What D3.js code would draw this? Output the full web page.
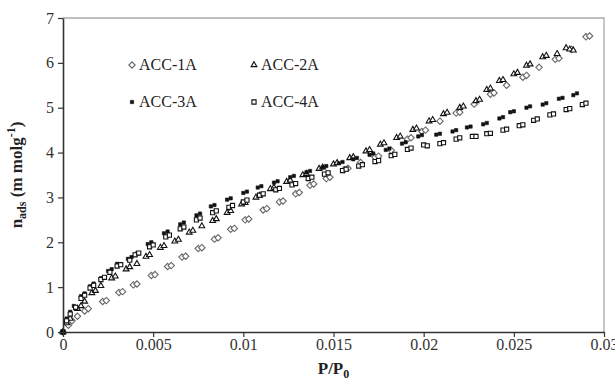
<!DOCTYPE html>
<html><head><meta charset="utf-8">
<script src="https://cdn.jsdelivr.net/npm/d3@7"></script>
<style>body{margin:0;background:#fff}svg{display:block}</style>
</head><body><svg id="c" width="615" height="382" font-family="Liberation Serif"></svg>
<script>
const seriesNames = ["ACC-1A","ACC-2A","ACC-3A","ACC-4A"];
const xTicks = [0,0.005,0.01,0.015,0.02,0.025,0.03];
const xTickLabels = ["0","0.005","0.01","0.015","0.02","0.025","0.03"];
const yTicks = [0,1,2,3,4,5,6,7];
const acc1A = [[0,0],[0.0003,0.15],[0.0005,0.25],[0.0008,0.35],[0.0012,0.47],[0.0014,0.52],[0.0022,0.68],[0.0024,0.7],[0.0031,0.88],[0.0033,0.9],[0.0039,1.05],[0.0041,1.07],[0.0049,1.26],[0.0051,1.28],[0.0058,1.46],[0.006,1.48],[0.0066,1.67],[0.0068,1.69],[0.0075,1.86],[0.0077,1.88],[0.0084,2.07],[0.0086,2.1],[0.0093,2.29],[0.0095,2.31],[0.0101,2.5],[0.0103,2.52],[0.0111,2.72],[0.0113,2.75],[0.012,2.9],[0.0122,2.92],[0.0129,3.08],[0.0131,3.11],[0.0137,3.27],[0.0139,3.3],[0.0146,3.42],[0.0148,3.45],[0.0156,3.62],[0.0158,3.65],[0.0165,3.78],[0.0173,3.9],[0.0175,3.92],[0.0182,4.05],[0.0191,4.3],[0.0193,4.33],[0.0199,4.47],[0.0201,4.5],[0.0209,4.7],[0.0218,4.88],[0.022,4.9],[0.0228,5.08],[0.0237,5.3],[0.0239,5.33],[0.0246,5.5],[0.0255,5.68],[0.0257,5.72],[0.0264,5.9],[0.0273,6.08],[0.0275,6.1],[0.0282,6.3],[0.029,6.58],[0.0292,6.6]];
const acc2A = [[0,0],[0.0002,0.2],[0.0004,0.3],[0.0008,0.52],[0.001,0.58],[0.0012,0.68],[0.0016,0.87],[0.0018,0.92],[0.0021,1.03],[0.0027,1.2],[0.0029,1.24],[0.0035,1.4],[0.0037,1.45],[0.0041,1.52],[0.0046,1.68],[0.0048,1.72],[0.0054,1.88],[0.0056,1.92],[0.0062,2.02],[0.0064,2.06],[0.007,2.22],[0.0072,2.26],[0.0077,2.36],[0.0083,2.48],[0.0085,2.52],[0.0091,2.66],[0.0093,2.7],[0.0099,2.85],[0.0101,2.88],[0.0107,3.0],[0.0109,3.04],[0.0115,3.19],[0.0117,3.22],[0.0124,3.35],[0.0126,3.38],[0.0133,3.5],[0.0135,3.53],[0.0142,3.64],[0.0144,3.67],[0.015,3.74],[0.0152,3.77],[0.0159,3.88],[0.0161,3.9],[0.0168,4.03],[0.017,4.06],[0.0176,4.18],[0.0178,4.21],[0.0185,4.33],[0.0187,4.36],[0.0194,4.51],[0.0196,4.54],[0.0203,4.7],[0.0205,4.73],[0.0211,4.86],[0.0213,4.89],[0.022,5.0],[0.0222,5.03],[0.0229,5.15],[0.0231,5.18],[0.0235,5.4],[0.0237,5.43],[0.0242,5.6],[0.0244,5.62],[0.025,5.75],[0.0252,5.78],[0.0257,5.94],[0.0259,5.97],[0.0266,6.13],[0.0268,6.16],[0.0274,6.2],[0.0279,6.33],[0.0281,6.3],[0.0283,6.28]];
const acc3A = [[0,0],[0.0002,0.3],[0.0004,0.45],[0.0006,0.58],[0.001,0.8],[0.0012,0.86],[0.0015,1.02],[0.0017,1.08],[0.0021,1.2],[0.0025,1.36],[0.0027,1.4],[0.003,1.52],[0.0036,1.63],[0.0038,1.67],[0.0041,1.75],[0.0047,1.96],[0.0049,2.0],[0.0056,2.2],[0.0058,2.24],[0.0065,2.4],[0.0067,2.44],[0.0074,2.6],[0.0076,2.64],[0.0082,2.8],[0.0084,2.83],[0.0091,2.95],[0.0093,2.98],[0.01,3.1],[0.0102,3.13],[0.0108,3.22],[0.011,3.25],[0.0117,3.33],[0.0119,3.36],[0.0126,3.45],[0.0128,3.48],[0.0135,3.56],[0.0137,3.59],[0.0144,3.67],[0.0146,3.7],[0.0153,3.76],[0.0155,3.79],[0.0161,3.85],[0.0163,3.88],[0.017,3.95],[0.0172,3.98],[0.0179,4.06],[0.0181,4.09],[0.0188,4.2],[0.019,4.23],[0.0197,4.36],[0.0199,4.39],[0.0207,4.4],[0.0209,4.42],[0.0216,4.47],[0.0218,4.5],[0.0224,4.56],[0.0226,4.58],[0.0233,4.63],[0.0235,4.66],[0.0242,4.76],[0.0244,4.79],[0.0248,4.9],[0.025,4.92],[0.0257,5.0],[0.0259,5.03],[0.0266,5.07],[0.0268,5.1],[0.0275,5.2],[0.0277,5.22],[0.0283,5.28],[0.0285,5.32]];
const acc4A = [[0,0],[0.0002,0.25],[0.0004,0.4],[0.0007,0.55],[0.001,0.75],[0.0012,0.82],[0.0015,0.98],[0.0017,1.04],[0.0021,1.17],[0.0023,1.22],[0.0026,1.33],[0.003,1.47],[0.0032,1.5],[0.0037,1.6],[0.004,1.72],[0.0042,1.76],[0.0048,1.9],[0.005,1.94],[0.0057,2.12],[0.0059,2.16],[0.0065,2.3],[0.0067,2.34],[0.0074,2.5],[0.0076,2.54],[0.0083,2.66],[0.0085,2.7],[0.0092,2.78],[0.0094,2.82],[0.01,2.9],[0.0102,2.94],[0.0109,3.05],[0.0111,3.08],[0.0118,3.17],[0.012,3.2],[0.0127,3.28],[0.0129,3.31],[0.0136,3.42],[0.0138,3.45],[0.0145,3.52],[0.0147,3.55],[0.0155,3.6],[0.0157,3.63],[0.0164,3.7],[0.0166,3.73],[0.0173,3.8],[0.0175,3.82],[0.0182,3.93],[0.0184,3.96],[0.0191,4.07],[0.0193,4.1],[0.02,4.17],[0.0202,4.15],[0.0209,4.2],[0.0211,4.22],[0.0218,4.3],[0.022,4.33],[0.0227,4.36],[0.0229,4.36],[0.0235,4.42],[0.0237,4.43],[0.0244,4.5],[0.0246,4.52],[0.0253,4.6],[0.0255,4.62],[0.0261,4.72],[0.0263,4.75],[0.027,4.84],[0.0272,4.86],[0.0279,4.96],[0.0281,4.98],[0.0288,5.07],[0.029,5.1]];

const W = 615, H = 382;
const m = {left:63, right:11, top:18, bottom:50};
const FONT = "Liberation Serif";
const svg = d3.select("#c");
const x = d3.scaleLinear().domain([0,0.03]).range([m.left, W-m.right]);
const y = d3.scaleLinear().domain([0,7]).range([H-m.bottom, m.top]);

svg.append("path")
  .attr("d", `M${x(0)},${y(7)}H${x(0.03)}V${y(0)}`)
  .attr("fill","none").attr("stroke","#aaa").attr("stroke-width",1.3);

const series = [
  {name:seriesNames[0], data:acc1A, type:d3.symbolDiamond2, size:26, stroke:"#666", fill:"#fff", sw:1.1},
  {name:seriesNames[1], data:acc2A, type:d3.symbolTriangle2, size:24, stroke:"#111", fill:"#fff", sw:1.1},
  {name:seriesNames[2], data:acc3A, type:d3.symbolSquare, size:11, stroke:"#111", fill:"#111", sw:0.6},
  {name:seriesNames[3], data:acc4A, type:d3.symbolSquare2, size:22, stroke:"#111", fill:"#fff", sw:1.1}
];

const g = svg.append("g");
series.forEach(s => {
  const sym = d3.symbol().type(s.type).size(s.size);
  g.append("g").selectAll("path").data(s.data).join("path")
    .attr("d", sym)
    .attr("transform", d => `translate(${x(d[0])},${y(d[1])})`)
    .attr("fill", s.fill).attr("stroke", s.stroke).attr("stroke-width", s.sw);
});
svg.append("circle").attr("cx",x(0)).attr("cy",y(0)).attr("r",2.5).attr("fill","#000");

const xAxis = svg.append("g").attr("transform",`translate(0,${y(0)})`)
  .call(d3.axisBottom(x).tickValues(xTicks).tickFormat((d,i)=>xTickLabels[i]).tickSize(5).tickSizeOuter(0));
const yAxis = svg.append("g").attr("transform",`translate(${x(0)},0)`)
  .call(d3.axisLeft(y).tickValues(yTicks).tickFormat(d3.format("d")).tickSize(5).tickSizeOuter(0));
[xAxis,yAxis].forEach(a=>{
  a.attr("font-family",FONT).attr("font-size",16);
  a.select(".domain").attr("stroke","#333").attr("stroke-width",1.6);
  a.selectAll(".tick line").attr("stroke","#333").attr("stroke-width",1.2);
  a.selectAll(".tick text").attr("font-family",FONT).attr("font-size",16).attr("fill","#333");
});
xAxis.selectAll(".tick text").attr("y",6).attr("dy","0.75em");
yAxis.selectAll(".tick text").attr("x",-9);

const xt = svg.append("text").attr("x",(x(0)+x(0.03))/2).attr("y",374).attr("font-family",FONT)
  .attr("text-anchor","middle").attr("font-weight","bold").attr("font-size",17).attr("fill","#222");
xt.append("tspan").text("P/P");
xt.append("tspan").attr("font-size",12).attr("dy",4).text("0");

const yt = svg.append("text").attr("transform",`translate(22,${(y(0)+y(7))/2}) rotate(-90)`).attr("font-family",FONT)
  .attr("text-anchor","middle").attr("font-weight","bold").attr("font-size",17).attr("fill","#222");
yt.append("tspan").text("n");
yt.append("tspan").attr("font-size",12).attr("dy",4).text("ads");
yt.append("tspan").attr("dy",-4).text(" (m molg");
yt.append("tspan").attr("font-size",12).attr("dy",-7).text("-1");
yt.append("tspan").attr("dy",7).text(")");

const legPos = [[132,65],[254,65],[132,102],[254,102]];
series.forEach((s,i)=>{
  const [lx,ly] = legPos[i];
  svg.append("path").attr("d", d3.symbol().type(s.type).size(s.size)())
    .attr("transform",`translate(${lx},${ly})`)
    .attr("fill", s.fill).attr("stroke", s.stroke).attr("stroke-width", s.sw);
  svg.append("text").attr("x",lx+7).attr("y",ly+5).attr("font-family",FONT).attr("font-size",16).attr("fill","#222").text(s.name);
});
</script></body></html>
